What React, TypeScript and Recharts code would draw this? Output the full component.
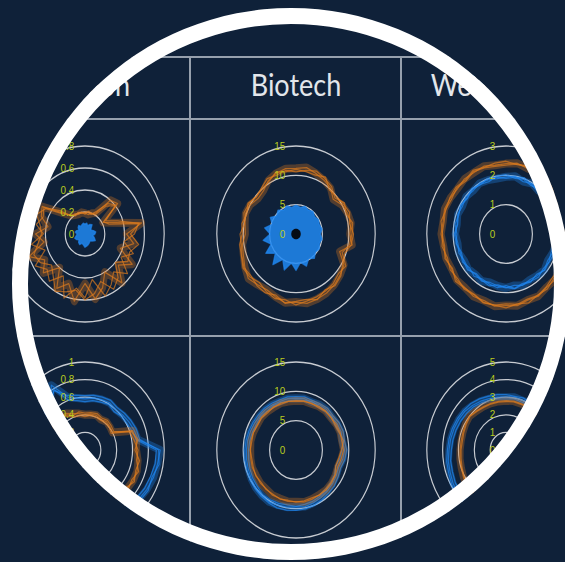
import { RadarChart, Radar, PolarGrid, PolarAngleAxis, PolarRadiusAxis } from "recharts";

const BG = "#0f2139";
const BLUE = "#2088f2";
const ORANGE = "#dc7a1e";
const GRID = "#c8ccd2";
const TICK = "#b9cb1f";
const RULE = "#96a0ad";

const columns = ["Fashion", "Biotech", "Web hosting"];

const angles = [
  "0°", "10°", "20°", "30°", "40°", "50°", "60°", "70°", "80°", "90°", "100°", "110°",
  "120°", "130°", "140°", "150°", "160°", "170°", "180°", "190°", "200°", "210°", "220°", "230°",
  "240°", "250°", "260°", "270°", "280°", "290°", "300°", "310°", "320°", "330°", "340°", "350°",
];

// Fashion, top row (0 – 0.8)
const fashionTopBlue = [0.09, 0.1, 0.08, 0.1, 0.11, 0.08, 0.07, 0.09, 0.11, 0.1, 0.08, 0.1, 0.12, 0.1, 0.08, 0.09, 0.1, 0.11, 0.12, 0.1, 0.09, 0.11, 0.1, 0.08, 0.1, 0.11, 0.09, 0.08, 0.1, 0.09, 0.07, 0.09, 0.1, 0.08, 0.09, 0.1];
const fashionTopOrangeA = [0.19, 0.18, 0.2, 0.22, 0.4, 0.43, 0.21, 0.3, 0.58, 0.42, 0.5, 0.38, 0.55, 0.44, 0.58, 0.4, 0.52, 0.6, 0.45, 0.62, 0.48, 0.57, 0.4, 0.55, 0.47, 0.6, 0.42, 0.5, 0.38, 0.47, 0.5, 0.3, 0.22, 0.2, 0.19, 0.2];
const fashionTopOrangeB = [0.2, 0.2, 0.19, 0.24, 0.36, 0.41, 0.22, 0.26, 0.55, 0.5, 0.4, 0.52, 0.42, 0.56, 0.45, 0.53, 0.6, 0.42, 0.58, 0.5, 0.62, 0.44, 0.56, 0.5, 0.58, 0.43, 0.55, 0.42, 0.5, 0.45, 0.48, 0.33, 0.21, 0.21, 0.2, 0.19];
const fashionTopOrangeC = [0.18, 0.21, 0.2, 0.2, 0.33, 0.4, 0.24, 0.35, 0.56, 0.46, 0.55, 0.48, 0.5, 0.4, 0.52, 0.58, 0.46, 0.55, 0.6, 0.52, 0.56, 0.6, 0.5, 0.44, 0.52, 0.55, 0.48, 0.44, 0.46, 0.52, 0.46, 0.28, 0.23, 0.19, 0.21, 0.2];

// Biotech, top row (0 – 15)
const biotechTopBlue = [4.9, 4.6, 5.0, 4.7, 5.0, 4.6, 4.9, 4.7, 5.0, 4.6, 5.0, 4.7, 5.1, 4.8, 5.4, 4.8, 5.8, 4.9, 6.2, 5.0, 6.5, 5.0, 6.8, 5.1, 6.6, 5.0, 6.3, 4.9, 6.0, 4.8, 5.6, 4.8, 5.3, 4.7, 5.1, 4.6];
const biotechTopCore = [0.9, 0.9, 0.9, 0.9, 0.9, 0.9, 0.9, 0.9, 0.9, 0.9, 0.9, 0.9, 0.9, 0.9, 0.9, 0.9, 0.9, 0.9, 0.9, 0.9, 0.9, 0.9, 0.9, 0.9, 0.9, 0.9, 0.9, 0.9, 0.9, 0.9, 0.9, 0.9, 0.9, 0.9, 0.9, 0.9];
const biotechTopOrangeA = [11.2, 11.5, 11.0, 10.6, 10.2, 9.2, 10.0, 10.4, 10.6, 10.2, 10.8, 8.8, 10.5, 10.9, 11.3, 11.6, 11.8, 12.0, 11.6, 11.9, 11.4, 11.0, 11.3, 11.8, 11.2, 10.6, 10.3, 9.6, 9.8, 10.2, 10.0, 9.4, 9.6, 10.5, 11.0, 11.3];
const biotechTopOrangeB = [10.6, 11.0, 11.4, 10.9, 10.5, 9.6, 10.6, 10.1, 10.9, 10.6, 10.3, 9.3, 10.9, 10.5, 11.0, 11.2, 11.4, 11.6, 12.1, 11.4, 11.7, 11.3, 10.8, 11.4, 11.6, 11.0, 10.8, 10.2, 10.4, 9.9, 10.5, 9.8, 10.2, 10.9, 10.7, 11.0];
const biotechTopOrangeC = [11.0, 10.8, 10.7, 11.2, 9.8, 10.0, 10.3, 10.8, 10.3, 10.9, 10.6, 9.8, 10.2, 11.1, 11.5, 11.0, 11.9, 11.3, 11.5, 12.0, 11.1, 11.6, 11.5, 11.1, 11.4, 10.9, 10.5, 10.6, 9.9, 10.5, 10.3, 9.9, 10.0, 10.3, 11.2, 10.8];

// Web hosting, top row (0 – 3)
const webTopBlueA = [1.95, 2.0, 1.9, 1.98, 1.92, 2.02, 1.88, 1.95, 1.9, 1.86, 1.93, 1.88, 1.82, 1.9, 1.85, 1.8, 1.86, 1.78, 1.84, 1.8, 1.76, 1.85, 1.8, 1.86, 1.82, 1.9, 1.85, 1.92, 1.88, 1.95, 1.9, 1.98, 1.93, 2.0, 1.96, 1.92];
const webTopBlueB = [2.02, 1.93, 1.98, 1.9, 2.0, 1.94, 1.96, 1.88, 1.97, 1.92, 1.86, 1.94, 1.9, 1.84, 1.92, 1.86, 1.8, 1.88, 1.76, 1.86, 1.82, 1.78, 1.88, 1.8, 1.9, 1.84, 1.92, 1.86, 1.96, 1.9, 1.98, 1.92, 2.02, 1.95, 1.9, 2.0];
const webTopBlueC = [1.9, 1.96, 2.04, 1.94, 1.88, 1.96, 2.0, 1.92, 1.86, 1.95, 1.9, 1.82, 1.88, 1.92, 1.8, 1.88, 1.84, 1.9, 1.82, 1.76, 1.88, 1.82, 1.76, 1.9, 1.86, 1.8, 1.9, 1.96, 1.86, 1.92, 1.96, 1.9, 1.98, 1.94, 2.02, 1.96];
const webTopOrangeA = [2.4, 2.45, 2.38, 2.42, 2.35, 2.4, 2.32, 2.38, 2.35, 2.3, 2.36, 2.4, 2.34, 2.42, 2.38, 2.45, 2.4, 2.48, 2.44, 2.5, 2.42, 2.46, 2.4, 2.44, 2.38, 2.42, 2.4, 2.46, 2.42, 2.48, 2.44, 2.4, 2.45, 2.42, 2.46, 2.38];
const webTopOrangeB = [2.48, 2.4, 2.44, 2.36, 2.42, 2.34, 2.4, 2.3, 2.38, 2.34, 2.3, 2.36, 2.4, 2.36, 2.44, 2.4, 2.5, 2.42, 2.52, 2.46, 2.5, 2.4, 2.46, 2.38, 2.44, 2.36, 2.46, 2.4, 2.5, 2.42, 2.46, 2.48, 2.4, 2.5, 2.42, 2.45];
const webTopOrangeC = [2.35, 2.42, 2.46, 2.4, 2.3, 2.38, 2.28, 2.42, 2.3, 2.38, 2.34, 2.3, 2.38, 2.3, 2.36, 2.42, 2.36, 2.44, 2.38, 2.46, 2.48, 2.38, 2.42, 2.5, 2.34, 2.46, 2.36, 2.42, 2.38, 2.44, 2.38, 2.44, 2.36, 2.46, 2.4, 2.34];

// Fashion, bottom row (0 – 1)
const fashionBotBlueA = [0.58, 0.6, 0.61, 0.62, 0.6, 0.62, 0.64, 0.66, 0.68, 0.95, 0.93, 0.92, 0.9, 0.88, 0.87, 0.86, 0.85, 0.84, 0.84, 0.82, 0.8, 0.78, 0.76, 0.74, 0.72, 0.7, 0.68, 0.66, 0.65, 0.64, 0.66, 0.65, 0.68, 0.85, 0.64, 0.6];
const fashionBotBlueB = [0.55, 0.57, 0.58, 0.6, 0.57, 0.6, 0.61, 0.63, 0.66, 0.9, 0.9, 0.88, 0.87, 0.85, 0.84, 0.83, 0.82, 0.81, 0.8, 0.79, 0.77, 0.75, 0.73, 0.71, 0.7, 0.68, 0.66, 0.64, 0.62, 0.62, 0.63, 0.62, 0.64, 0.8, 0.6, 0.57];
const fashionBotBlueC = [0.62, 0.63, 0.64, 0.65, 0.63, 0.65, 0.67, 0.69, 0.7, 0.93, 0.95, 0.9, 0.92, 0.9, 0.89, 0.88, 0.87, 0.86, 0.85, 0.83, 0.82, 0.8, 0.78, 0.76, 0.74, 0.72, 0.7, 0.68, 0.67, 0.66, 0.68, 0.67, 0.7, 0.78, 0.66, 0.63];
const fashionBotOrangeA = [0.4, 0.41, 0.42, 0.4, 0.42, 0.41, 0.4, 0.64, 0.66, 0.65, 0.68, 0.7, 0.7, 0.69, 0.68, 0.67, 0.66, 0.65, 0.64, 0.62, 0.6, 0.58, 0.56, 0.54, 0.52, 0.5, 0.5, 0.49, 0.48, 0.48, 0.49, 0.5, 0.5, 0.48, 0.44, 0.42];
const fashionBotOrangeB = [0.42, 0.43, 0.44, 0.42, 0.44, 0.43, 0.42, 0.6, 0.63, 0.67, 0.66, 0.72, 0.68, 0.71, 0.66, 0.69, 0.64, 0.67, 0.62, 0.64, 0.58, 0.6, 0.55, 0.56, 0.5, 0.52, 0.48, 0.51, 0.47, 0.5, 0.47, 0.52, 0.48, 0.46, 0.42, 0.44];
const fashionBotOrangeC = [0.38, 0.4, 0.4, 0.39, 0.4, 0.4, 0.38, 0.62, 0.68, 0.63, 0.7, 0.68, 0.72, 0.67, 0.7, 0.65, 0.68, 0.63, 0.66, 0.6, 0.62, 0.56, 0.58, 0.52, 0.54, 0.49, 0.52, 0.47, 0.5, 0.46, 0.5, 0.48, 0.52, 0.44, 0.4, 0.4];

// Biotech, bottom row (0 – 15)
const biotechBotBlueA = [8.8, 8.9, 8.7, 8.9, 9.0, 8.8, 9.0, 9.1, 8.9, 9.2, 9.0, 8.6, 8.8, 9.0, 9.2, 9.4, 9.6, 9.8, 9.7, 9.9, 10.0, 10.2, 10.1, 10.0, 9.8, 9.6, 9.5, 9.4, 9.3, 9.2, 9.1, 9.0, 9.0, 8.9, 8.8, 8.9];
const biotechBotBlueB = [8.5, 8.6, 8.8, 8.6, 8.7, 8.9, 8.6, 8.8, 9.2, 8.7, 8.4, 8.0, 8.5, 8.7, 8.9, 9.1, 9.3, 9.4, 9.6, 9.5, 9.7, 9.8, 9.9, 9.6, 9.5, 9.3, 9.1, 9.0, 8.9, 8.8, 8.7, 8.8, 8.6, 8.7, 8.6, 8.5];
const biotechBotBlueC = [9.1, 9.2, 9.0, 9.1, 9.3, 9.1, 9.4, 9.5, 9.3, 9.6, 9.4, 9.0, 9.2, 9.5, 9.6, 9.8, 10.0, 10.2, 10.3, 10.4, 10.5, 10.4, 10.3, 10.2, 10.1, 9.9, 9.8, 9.7, 9.6, 9.5, 9.4, 9.3, 9.3, 9.2, 9.1, 9.2];
const biotechBotOrangeA = [8.4, 8.5, 8.4, 8.6, 8.7, 8.6, 8.8, 8.9, 8.8, 9.0, 8.7, 8.4, 8.6, 8.8, 8.9, 8.8, 8.9, 9.0, 8.8, 8.9, 8.8, 8.9, 8.7, 8.8, 8.7, 8.8, 8.7, 8.6, 8.7, 8.6, 8.5, 8.6, 8.5, 8.4, 8.5, 8.4];
const biotechBotOrangeB = [8.3, 8.4, 8.5, 8.4, 8.6, 8.7, 8.5, 8.7, 9.1, 8.6, 8.2, 8.0, 8.5, 8.6, 8.7, 8.9, 8.7, 8.8, 8.9, 8.7, 8.9, 8.7, 8.8, 8.6, 8.8, 8.6, 8.5, 8.7, 8.5, 8.6, 8.4, 8.5, 8.3, 8.5, 8.3, 8.4];

// Web hosting, bottom row (0 – 5)
const webBotBlueA = [3.0, 3.05, 3.0, 3.05, 3.1, 3.05, 3.0, 3.05, 3.0, 3.1, 3.05, 3.1, 3.15, 3.2, 3.25, 3.3, 3.35, 3.4, 3.5, 3.55, 3.6, 3.7, 3.8, 3.9, 3.85, 3.75, 3.7, 3.6, 3.55, 3.5, 3.45, 3.4, 3.3, 3.2, 3.1, 3.05];
const webBotBlueB = [3.15, 3.1, 3.15, 3.1, 3.2, 3.15, 3.1, 3.15, 3.2, 3.2, 3.15, 3.25, 3.3, 3.35, 3.4, 3.45, 3.5, 3.55, 3.65, 3.7, 3.75, 3.85, 3.95, 4.0, 3.95, 3.85, 3.8, 3.7, 3.65, 3.6, 3.55, 3.5, 3.45, 3.35, 3.25, 3.2];
const webBotBlueC = [2.9, 2.95, 2.9, 2.95, 3.0, 2.95, 2.9, 2.95, 2.95, 3.0, 2.95, 3.0, 3.05, 3.1, 3.15, 3.2, 3.25, 3.3, 3.4, 3.45, 3.5, 3.55, 3.65, 3.75, 3.7, 3.6, 3.55, 3.45, 3.4, 3.35, 3.3, 3.25, 3.2, 3.1, 3.0, 2.95];
const webBotOrangeA = [2.8, 2.82, 2.8, 2.84, 2.85, 2.82, 2.8, 2.82, 2.85, 2.88, 2.9, 2.92, 2.95, 2.98, 3.0, 3.02, 3.05, 3.08, 3.1, 3.12, 3.15, 3.18, 3.2, 3.22, 3.1, 3.0, 2.95, 2.9, 2.88, 2.9, 2.95, 3.0, 2.9, 2.85, 2.82, 2.8];
const webBotOrangeB = [2.75, 2.78, 2.76, 2.8, 2.8, 2.78, 2.76, 2.8, 2.82, 2.84, 2.86, 2.88, 2.9, 2.94, 2.96, 2.98, 3.0, 3.04, 3.06, 3.08, 3.1, 3.14, 3.16, 3.18, 3.05, 2.95, 2.88, 2.84, 2.8, 2.84, 2.9, 2.96, 2.86, 2.8, 2.78, 2.76];

type Style = "fill" | "core" | "glow" | "line";
type Layer = { key: string; values: number[]; color: string; style: Style };

type PanelDef = {
  cx: number;
  cy: number;
  max: number;
  tickCount: number;
  layers: Layer[];
};

// one blue/orange bundle: a faint wide stroke under the thin traces
const bundle = (color: string, traces: number[][], prefix: string): Layer[] => [
  { key: `${prefix}0glow`, values: traces[0], color, style: "glow" },
  ...traces.map((values, i) => ({ key: `${prefix}${i}`, values, color, style: "line" as Style })),
];

const COL_X = [84.5, 295.5, 506];
const ROW_Y = [233.5, 450];

const panels: PanelDef[] = [
  {
    cx: COL_X[0], cy: ROW_Y[0], max: 0.8, tickCount: 5,
    layers: [
      { key: "b", values: fashionTopBlue, color: BLUE, style: "fill" },
      ...bundle(ORANGE, [fashionTopOrangeA, fashionTopOrangeB, fashionTopOrangeC], "o"),
    ],
  },
  {
    cx: COL_X[1], cy: ROW_Y[0], max: 15, tickCount: 4,
    layers: [
      ...bundle(ORANGE, [biotechTopOrangeA, biotechTopOrangeB, biotechTopOrangeC], "o"),
      { key: "b", values: biotechTopBlue, color: BLUE, style: "fill" },
      { key: "core", values: biotechTopCore, color: "#050b14", style: "core" },
    ],
  },
  {
    cx: COL_X[2], cy: ROW_Y[0], max: 3, tickCount: 4,
    layers: [
      ...bundle(ORANGE, [webTopOrangeA, webTopOrangeB, webTopOrangeC], "o"),
      ...bundle(BLUE, [webTopBlueA, webTopBlueB, webTopBlueC], "b"),
    ],
  },
  {
    cx: COL_X[0], cy: ROW_Y[1], max: 1, tickCount: 6,
    layers: [
      ...bundle(BLUE, [fashionBotBlueA, fashionBotBlueB, fashionBotBlueC], "b"),
      ...bundle(ORANGE, [fashionBotOrangeA, fashionBotOrangeB, fashionBotOrangeC], "o"),
    ],
  },
  {
    cx: COL_X[1], cy: ROW_Y[1], max: 15, tickCount: 4,
    layers: [
      ...bundle(BLUE, [biotechBotBlueA, biotechBotBlueB, biotechBotBlueC], "b"),
      ...bundle(ORANGE, [biotechBotOrangeA, biotechBotOrangeB], "o"),
    ],
  },
  {
    cx: COL_X[2], cy: ROW_Y[1], max: 5, tickCount: 6,
    layers: [
      ...bundle(BLUE, [webBotBlueA, webBotBlueB, webBotBlueC], "b"),
      ...bundle(ORANGE, [webBotOrangeA, webBotOrangeB], "o"),
    ],
  },
];

function styleProps(l: Layer) {
  switch (l.style) {
    case "fill":
      return { stroke: l.color, strokeWidth: 1.5, strokeOpacity: 0.7, fill: l.color, fillOpacity: 0.85 };
    case "core":
      return { stroke: "none", fill: l.color, fillOpacity: 1 };
    case "glow":
      return { stroke: l.color, strokeWidth: 8, strokeOpacity: 0.32, fill: "none" };
    default:
      return { stroke: l.color, strokeWidth: 1.3, strokeOpacity: 0.7, fill: "none" };
  }
}

function RadiusTick(props: any) {
  const { x, y, payload } = props;
  const v = Number(Number(payload.value).toFixed(2));
  return (
    <text
      x={x - 12}
      y={y}
      textAnchor="end"
      dominantBaseline="central"
      fill={TICK}
      fontSize={11}
      fontFamily="'Liberation Sans', Arial, sans-serif"
    >
      {v}
    </text>
  );
}

function Panel({ def }: { def: PanelDef }) {
  const rows = angles.map((angle, i) => {
    const row: Record<string, string | number> = { angle };
    def.layers.forEach((l) => {
      row[l.key] = l.values[i];
    });
    return row;
  });
  return (
    <div
      style={{
        position: "absolute",
        left: def.cx - 100,
        top: def.cy - 100,
        width: 200,
        height: 200,
        transform: "scaleX(0.9)",
      }}
    >
      <RadarChart width={200} height={200} data={rows} outerRadius={88} margin={{ top: 0, right: 0, bottom: 0, left: 0 }}>
        <PolarGrid gridType="circle" radialLines={false} stroke={GRID} strokeWidth={1.3} />
        <PolarAngleAxis dataKey="angle" tick={false} axisLine={false} />
        {def.layers.map((l) => (
          <Radar
            key={l.key}
            dataKey={l.key}
            dot={false}
            isAnimationActive={false}
            strokeLinejoin="round"
            {...styleProps(l)}
          />
        ))}
        <PolarRadiusAxis
          angle={90}
          domain={[0, def.max]}
          tickCount={def.tickCount}
          allowDecimals
          axisLine={false}
          tickLine={false}
          tick={RadiusTick}
        />
      </RadarChart>
    </div>
  );
}

const COL_EDGES = [190, 401];
const ROW_EDGES = [57, 119, 336];

// frame is a touch wider than it is tall
const FRAME = { left: 12, top: 8, width: 558, height: 552, border: 16 };

export default function App() {
  return (
    <div style={{ position: "absolute", left: 0, top: 0, width: 565, height: 562, background: BG, overflow: "hidden" }}>
      <div
        style={{
          position: "absolute",
          left: FRAME.left,
          top: FRAME.top,
          width: FRAME.width,
          height: FRAME.height,
          borderRadius: "50%",
          overflow: "hidden",
        }}
      >
        <div style={{ position: "absolute", left: -FRAME.left, top: -FRAME.top, width: 565, height: 562 }}>
          {ROW_EDGES.map((y) => (
            <div key={y} style={{ position: "absolute", left: 0, top: y - 1, width: 565, height: 1.5, background: RULE }} />
          ))}
          {COL_EDGES.map((x) => (
            <div key={x} style={{ position: "absolute", left: x - 1, top: ROW_EDGES[0], width: 1.5, height: 520, background: RULE }} />
          ))}
          {columns.map((name, i) => (
            <div
              key={name}
              style={{
                position: "absolute",
                left: COL_X[i] - 150,
                top: 69,
                width: 300,
                textAlign: "center",
                fontFamily: "Lato, 'Open Sans', sans-serif",
                fontSize: 30,
                lineHeight: "30px",
                color: "#e2e6eb",
                transform: "scaleX(0.9)",
                whiteSpace: "nowrap",
              }}
            >
              {name}
            </div>
          ))}
          {panels.map((p, i) => (
            <Panel key={i} def={p} />
          ))}
        </div>
      </div>
      <div
        style={{
          position: "absolute",
          left: FRAME.left,
          top: FRAME.top,
          width: FRAME.width,
          height: FRAME.height,
          borderRadius: "50%",
          border: `${FRAME.border}px solid #ffffff`,
          boxSizing: "border-box",
        }}
      />
    </div>
  );
}
